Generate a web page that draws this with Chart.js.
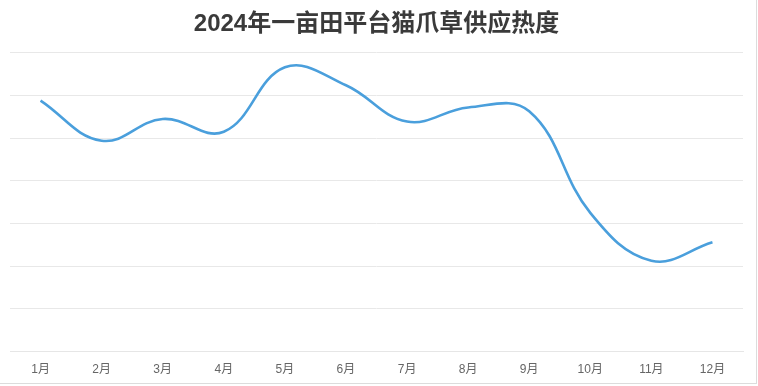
<!DOCTYPE html>
<html>
<head>
<meta charset="utf-8">
<script src="https://cdn.jsdelivr.net/npm/chart.js@4/dist/chart.umd.min.js"></script>
<style>
  html, body { margin: 0; padding: 0; background: #fff; }
  #box {
    width: 756px; height: 383px;
    border-right: 1px solid #dcdcdc;
    border-bottom: 1px solid #dcdcdc;
    position: relative;
  }
</style>
</head>
<body>
<div id="box"><canvas id="heatChart"></canvas></div>
<script>
// 月份
const months = ["1月", "2月", "3月", "4月", "5月", "6月", "7月", "8月", "9月", "10月", "11月", "12月"];
// 供应热度
const supplyHeat = [58.8, 49.4, 54.5, 51.5, 66.6, 62.4, 53.9, 57.2, 56.3, 32.5, 21.3, 25.6];
const chartTitle = "2024年一亩田平台猫爪草供应热度";

const fontStack = "'Liberation Sans', 'Noto Sans CJK SC', sans-serif";

document.addEventListener("DOMContentLoaded", () => {
    const ctx = document.getElementById("heatChart").getContext("2d");

    new Chart(ctx, {
        type: "line",
        data: {
            labels: months,
            datasets: [{
                label: "供应热度",
                data: supplyHeat,
                borderColor: "#4a9fdc",
                borderWidth: 2.6,
                tension: 0.4,
                pointRadius: 0,
                fill: false
            }]
        },
        options: {
            responsive: true,
            maintainAspectRatio: false,
            animation: false,
            layout: { padding: { left: 10, right: 13, top: 0, bottom: 3 } },
            plugins: {
                legend: { display: false },
                tooltip: { enabled: false },
                title: {
                    display: true,
                    text: chartTitle,
                    color: "#3a3a3a",
                    font: { family: fontStack, size: 24, weight: "bold" },
                    padding: { top: 10, bottom: 14 }
                }
            },
            scales: {
                x: {
                    offset: true,
                    grid: { display: false },
                    border: { display: true, color: "#e6e6e6", width: 1 },
                    ticks: {
                        color: "#666",
                        font: { family: fontStack, size: 12 },
                        padding: 3,
                        maxRotation: 0
                    }
                },
                y: {
                    min: 0,
                    max: 70,
                    ticks: { display: false, stepSize: 10 },
                    grid: { color: "#e8e8e8", drawTicks: false },
                    border: { display: false }
                }
            }
        }
    });
});
</script>
</body>
</html>
